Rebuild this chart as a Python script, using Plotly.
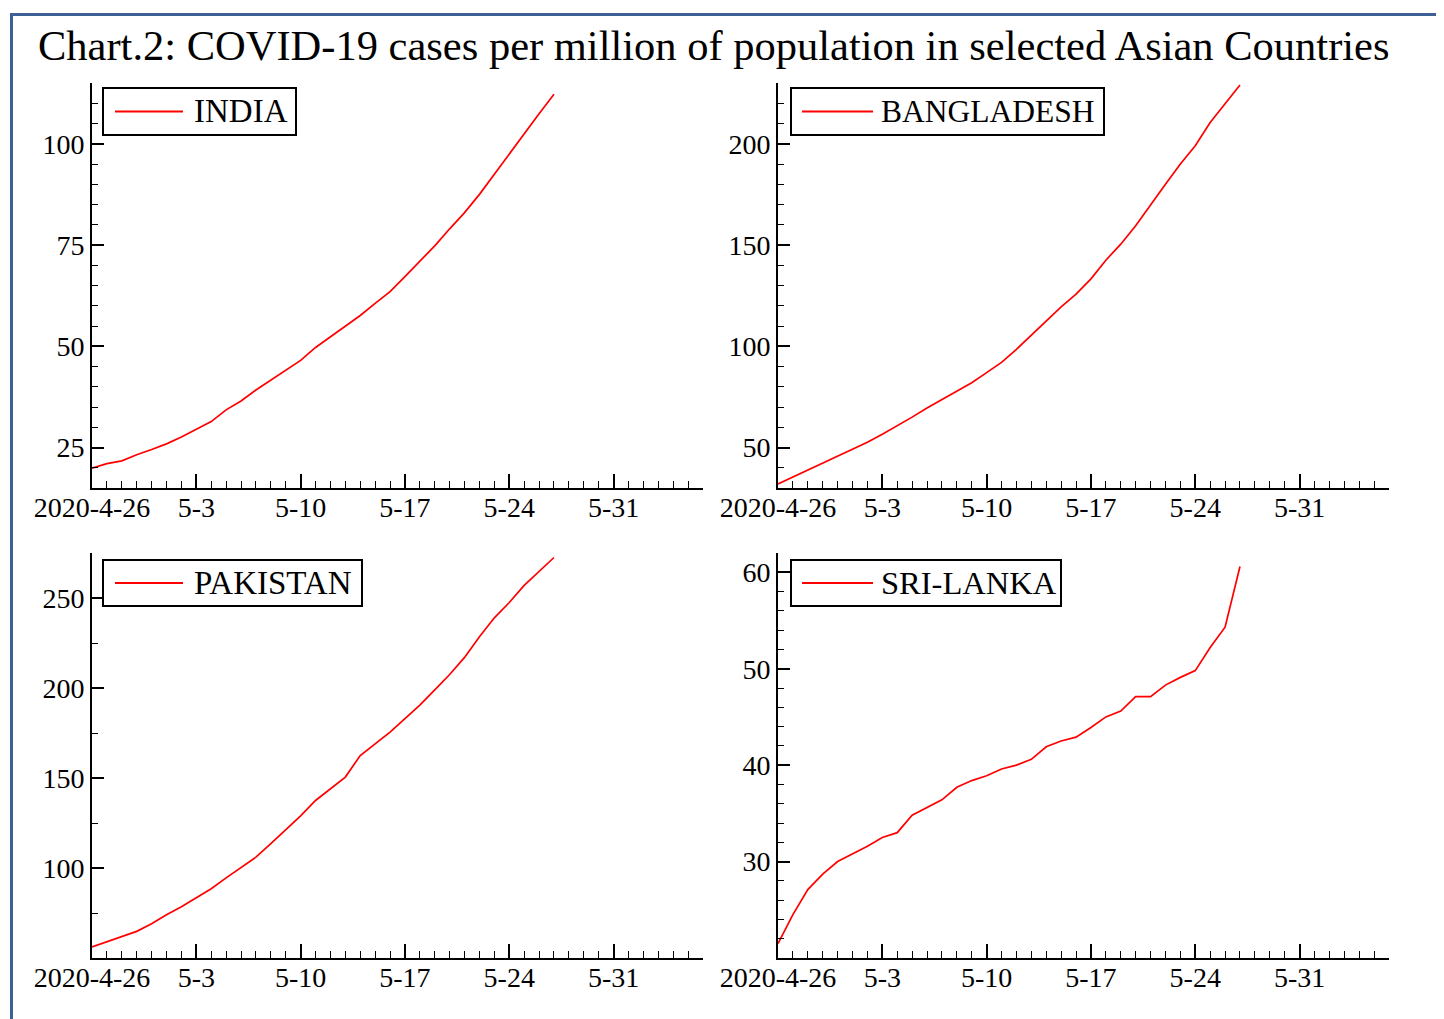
import plotly.graph_objects as go

# ---------------- data ----------------
dates = ["2020-04-26", "2020-04-27", "2020-04-28", "2020-04-29", "2020-04-30",
         "2020-05-01", "2020-05-02", "2020-05-03", "2020-05-04", "2020-05-05",
         "2020-05-06", "2020-05-07", "2020-05-08", "2020-05-09", "2020-05-10",
         "2020-05-11", "2020-05-12", "2020-05-13", "2020-05-14", "2020-05-15",
         "2020-05-16", "2020-05-17", "2020-05-18", "2020-05-19", "2020-05-20",
         "2020-05-21", "2020-05-22", "2020-05-23", "2020-05-24", "2020-05-25",
         "2020-05-26", "2020-05-27"]

india = [19.9, 21.0, 21.7, 23.2, 24.5, 25.9, 27.6, 29.6, 31.4, 34.3, 36.5, 39.2,
         41.6, 44.1, 46.5, 49.7, 52.3, 54.9, 57.6, 60.6, 63.5, 67.2, 71.1, 74.8,
         79.0, 83.0, 87.5, 92.5, 97.5, 102.6, 107.4, 112.2]

bangladesh = [32.0, 35.4, 38.7, 42.5, 45.9, 49.3, 52.6, 56.6, 60.7, 65.0, 69.5,
              73.8, 78.0, 82.0, 87.0, 92.0, 98.5, 105.5, 112.5, 119.5, 125.7,
              133.3, 142.5, 150.4, 159.5, 170.0, 180.0, 190.0, 199.0, 210.5,
              219.5, 229.0]

pakistan = [56.2, 59.0, 61.8, 64.8, 69.0, 74.0, 78.5, 83.5, 88.5, 94.5, 100.0,
            106.0, 113.5, 121.0, 129.0, 137.5, 144.0, 150.5, 162.5, 169.0, 175.5,
            183.0, 190.5, 199.0, 207.5, 217.0, 228.5, 239.0, 247.5, 257.0, 264.5,
            272.5]

srilanka = [21.5, 24.5, 27.1, 28.7, 30.0, 30.8, 31.6, 32.5, 33.0, 34.8, 35.6,
            36.4, 37.7, 38.4, 38.9, 39.6, 40.0, 40.6, 41.9, 42.5, 42.9, 43.9,
            45.0, 45.6, 47.1, 47.1, 48.3, 49.1, 49.8, 52.2, 54.3, 60.6]

names = ["INDIA", "BANGLADESH", "PAKISTAN", "SRI-LANKA"]
series = [india, bangladesh, pakistan, srilanka]

x_tickvals = ["2020-04-26", "2020-05-03", "2020-05-10", "2020-05-17", "2020-05-24", "2020-05-31"]
x_ticktext = ["2020-4-26", "5-3", "5-10", "5-17", "5-24", "5-31"]
x_range = ["2020-04-26", "2020-06-06"]

y_ranges = [[15, 115], [30, 230], [50, 275], [20, 62]]
y_tickvals = [[25, 50, 75, 100], [50, 100, 150, 200], [100, 150, 200, 250], [30, 40, 50, 60]]
y_minor = [5, 10, 25, 2]

title = "Chart.2: COVID-19 cases per million of population in selected Asian Countries"

# ---------------- layout geometry (pixels of the reference picture) ----------------
W, H = 1444, 1019
OFF = 8  # page body margin of the browser
FONT = "Liberation Serif"
# (left, right, top, bottom) of each axes box
boxes = [(92, 703, 83, 488), (778, 1389, 83, 488),
         (92, 703, 553, 958), (778, 1389, 553, 958)]
# legend boxes (left, right, top, bottom), sample line (x0, x1), text start x, font size
legend_boxes = [(103, 296, 88, 135), (791, 1104, 88, 135),
                (103, 362, 560, 606), (791, 1061, 560, 606)]
legend_lines = [(115, 183), (802, 873), (115, 183), (802, 873)]
legend_text_x = [192, 879, 192, 879]
legend_font = [33, 31.5, 33, 32.5]


def px_x(p):
    return (p - OFF) / W


def px_y(p):
    return 1 - (p - OFF) / H


fig = go.Figure()
layout = dict(
    width=W, height=H,
    margin=dict(l=0, r=0, t=0, b=0, autoexpand=False),
    paper_bgcolor="white", plot_bgcolor="white",
    font=dict(family=FONT, color="black"),
    showlegend=False,
)

for i, (nm, ys) in enumerate(zip(names, series)):
    k = "" if i == 0 else str(i + 1)
    fig.add_trace(go.Scatter(
        x=dates, y=ys, mode="lines", name=nm,
        line=dict(color="#ff0000", width=1.7),
        xaxis="x" + k, yaxis="y" + k,
    ))
    l, r, t, b = boxes[i]
    layout["xaxis" + k] = dict(
        domain=[px_x(l), px_x(r)], anchor="y" + k, type="date", automargin=False,
        range=x_range, tickmode="array", tickvals=x_tickvals, ticktext=x_ticktext,
        ticks="inside", ticklen=14, tickwidth=1.6, tickcolor="black",
        minor=dict(ticks="inside", ticklen=7, tickwidth=1.4, tickcolor="black",
                   dtick=86400000, tick0="2020-04-26"),
        showline=True, linecolor="black", linewidth=2, showgrid=False, zeroline=False,
        tickfont=dict(family=FONT, size=28, color="black"),
        ticklabelstandoff=-7,
    )
    layout["yaxis" + k] = dict(
        domain=[px_y(b), px_y(t)], anchor="x" + k, automargin=False,
        range=y_ranges[i], tickmode="array", tickvals=y_tickvals[i],
        ticks="inside", ticklen=12, tickwidth=1.6, tickcolor="black",
        minor=dict(ticks="inside", ticklen=6, tickwidth=1.4, tickcolor="black",
                   dtick=y_minor[i], tick0=0),
        showline=True, linecolor="black", linewidth=2, showgrid=False, zeroline=False,
        tickfont=dict(family=FONT, size=28, color="black"),
    )

fig.update_layout(**layout)

# legend boxes: frame, sample line, label
for i, nm in enumerate(names):
    l, r, t, b = legend_boxes[i]
    fig.add_shape(type="rect", xref="paper", yref="paper",
                  x0=px_x(l), x1=px_x(r), y0=px_y(b), y1=px_y(t),
                  line=dict(color="black", width=2), fillcolor="white", layer="above")
    x0, x1 = legend_lines[i]
    yc = (t + b) / 2
    fig.add_shape(type="line", xref="paper", yref="paper",
                  x0=px_x(x0), x1=px_x(x1), y0=px_y(yc), y1=px_y(yc),
                  line=dict(color="#ff0000", width=2), layer="above")
    fig.add_annotation(
        text=nm, xref="paper", yref="paper",
        x=px_x(legend_text_x[i]), y=px_y(yc), xanchor="left", yanchor="middle",
        showarrow=False, font=dict(family=FONT, size=legend_font[i], color="black"),
    )

fig.add_annotation(
    text=title, xref="paper", yref="paper",
    x=px_x(36), y=px_y(45), xanchor="left", yanchor="middle",
    showarrow=False, font=dict(family=FONT, size=42.5, color="black"),
)

# blue outer frame
fig.add_shape(type="rect", xref="paper", yref="paper",
              x0=px_x(11.5), x1=px_x(1480), y0=px_y(14.5), y1=px_y(1050),
              line=dict(color="#3d6196", width=3), fillcolor="rgba(0,0,0,0)")

fig.write_html("out.html")
